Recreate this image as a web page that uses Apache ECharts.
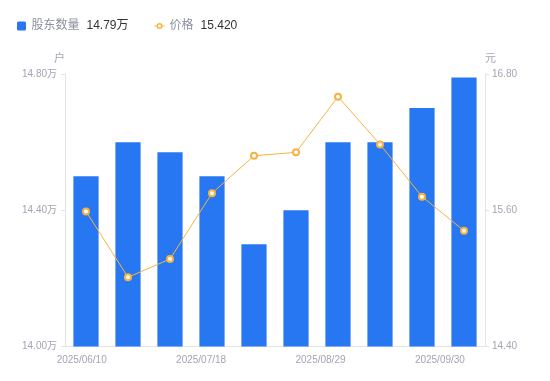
<!DOCTYPE html>
<html>
<head>
<meta charset="utf-8">
<script src="https://cdn.jsdelivr.net/npm/echarts@6/dist/echarts.min.js"></script>
<style>
  html, body { margin: 0; padding: 0; background: #fff; }
  #chart { width: 550px; height: 381px; }
</style>
</head>
<body>
<div id="chart"></div>
<script>
// data
const dates = ['2025/06/10', '2025/06/20', '2025/06/30', '2025/07/18', '2025/07/31',
               '2025/08/10', '2025/08/29', '2025/09/10', '2025/09/19', '2025/09/30']
const holders = [14.50, 14.60, 14.57, 14.50, 14.30, 14.40, 14.60, 14.60, 14.70, 14.79]
const prices = [15.59, 15.01, 15.17, 15.75, 16.08, 16.11, 16.60, 16.18, 15.72, 15.42]
const holderTicks = [14.0, 14.8, 0.4]
const priceTicks = [14.4, 16.8, 1.2]

const labelColor = '#a3a5b3'
const lineColor = '#e3e4e8'
const barColor = '#2777f3'
const priceColor = '#f9b23f'
const font = 'Arial, "Liberation Sans", "Noto Sans CJK SC", sans-serif'

// small legend glyphs: rounded square, and a short line through a ring
const squareIcon = 'path://M1.5,0H7.5A1.5,1.5 0 0 1 9,1.5V7.5A1.5,1.5 0 0 1 7.5,9H1.5A1.5,1.5 0 0 1 0,7.5V1.5A1.5,1.5 0 0 1 1.5,0Z'
const lineIcon = 'path://M0,2.5H2.2V3.5H0Z M7.8,2.5H10V3.5H7.8Z M5,0A3,3 0 1 1 4.99,0Z M5,1.5A1.5,1.5 0 1 0 5.01,1.5Z'

const chart = echarts.init(document.getElementById('chart'))

const legendValues = {
    '股东数量': holders[holders.length - 1].toFixed(2) + '万',
    '价格': prices[prices.length - 1].toFixed(3),
}

const option = {
    animation: false,
    textStyle: { fontFamily: font },
    legend: {
        left: 17,
        top: 20,
        padding: 0,
        itemWidth: 10,
        itemHeight: 9,
        itemGap: 26,
        symbolKeepAspect: true,
        data: [
            { name: '股东数量', icon: squareIcon, itemStyle: { color: barColor } },
            { name: '价格', icon: lineIcon, itemStyle: { color: priceColor, borderWidth: 0 } },
        ],
        formatter: (name) => `{n|${name}}{v|${legendValues[name]}}`,
        textStyle: {
            rich: {
                n: { fontSize: 12, color: '#8d909c', fontFamily: font },
                v: { fontSize: 12, color: '#333', padding: [0, 0, 0, 7], fontFamily: font },
            },
        },
    },
    grid: [
        { left: 65, right: 65, top: 74, bottom: 34.5 },
        // only carries the date labels
        { left: 61.8, right: 90.2, top: 74, bottom: 34.5 },
    ],
    xAxis: [
        {
            type: 'category',
            gridIndex: 0,
            data: dates,
            axisLine: { lineStyle: { color: lineColor } },
            axisTick: { show: false },
            axisLabel: { show: false },
        },
        {
            type: 'category',
            gridIndex: 1,
            data: dates,
            axisLine: { show: false },
            axisTick: { show: false },
            axisLabel: { interval: 2, color: labelColor, fontSize: 10, margin: 9 },
        },
    ],
    yAxis: [
        {
            type: 'value',
            gridIndex: 0,
            name: '户',
            nameGap: 10,
            nameTextStyle: { color: labelColor, fontSize: 11, align: 'right' },
            min: holderTicks[0],
            max: holderTicks[1],
            interval: holderTicks[2],
            axisLine: { show: true, lineStyle: { color: lineColor } },
            axisTick: { show: true, length: 4, lineStyle: { color: lineColor } },
            axisLabel: {
                color: labelColor,
                fontSize: 10,
                margin: 8,
                formatter: (v) => v.toFixed(2) + '万',
            },
            splitLine: { show: false },
        },
        {
            type: 'value',
            gridIndex: 0,
            position: 'right',
            name: '元',
            nameGap: 10,
            nameTextStyle: { color: labelColor, fontSize: 11, align: 'left' },
            min: priceTicks[0],
            max: priceTicks[1],
            interval: priceTicks[2],
            axisLine: { show: true, lineStyle: { color: lineColor } },
            axisTick: { show: true, length: 4, lineStyle: { color: lineColor } },
            axisLabel: {
                color: labelColor,
                fontSize: 10,
                margin: 7,
                formatter: (v) => v.toFixed(2),
            },
            splitLine: { show: false },
        },
        {
            type: 'value',
            gridIndex: 1,
            show: false,
        },
    ],
    series: [
        {
            name: '股东数量',
            type: 'bar',
            xAxisIndex: 0,
            yAxisIndex: 0,
            data: holders,
            barWidth: '60%',
            itemStyle: { color: barColor },
        },
        {
            name: '价格',
            type: 'line',
            xAxisIndex: 0,
            yAxisIndex: 1,
            data: prices,
            symbol: 'emptyCircle',
            symbolSize: 6,
            lineStyle: { width: 1, color: priceColor },
            itemStyle: { color: priceColor, borderWidth: 2 },
        },
    ],
}

chart.setOption(option)
</script>
</body>
</html>
